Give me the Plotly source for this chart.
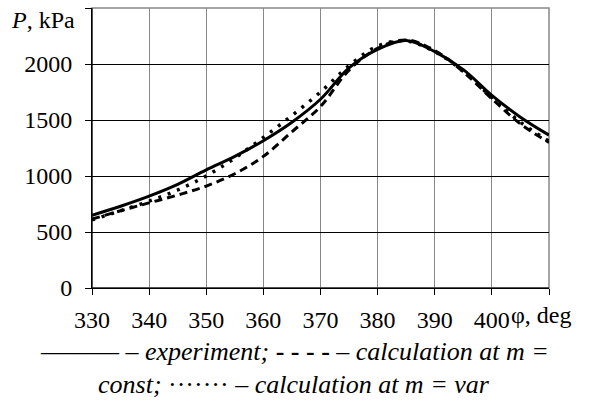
import plotly.graph_objects as go

phi = [330, 335, 340, 345, 350, 355, 360, 365, 370, 375, 380, 385, 390, 395, 400, 405, 410]
p_experiment = [650, 730, 820, 925, 1055, 1175, 1315, 1480, 1685, 1965, 2130, 2210, 2110, 1950, 1720, 1525, 1365]
p_const = [615, 690, 760, 830, 910, 1020, 1175, 1395, 1620, 1945, 2140, 2215, 2120, 1930, 1690, 1465, 1300]
p_var = [608, 690, 775, 875, 1000, 1160, 1345, 1540, 1750, 1985, 2160, 2205, 2110, 1935, 1700, 1480, 1310]

x_ticks = [330, 340, 350, 360, 370, 380, 390, 400, 410]
x_ticktext = ["330", "340", "350", "360", "370", "380", "390", "400", ""]
y_ticks = [0, 500, 1000, 1500, 2000, 2500]
y_ticktext = ["0", "500", "1000", "1500", "2000", ""]

FONT = "serif"

fig = go.Figure()
fig.add_trace(go.Scatter(x=phi, y=p_experiment, mode="lines", line=dict(color="black", width=3, shape="spline"), name="experiment"))
fig.add_trace(go.Scatter(x=phi, y=p_const, mode="lines", line=dict(color="black", width=3, dash="8px,5px", shape="spline"), name="m=const"))
fig.add_trace(go.Scatter(x=phi, y=p_var, mode="lines", line=dict(color="black", width=3.5, dash="3px,7px", shape="spline"), name="m=var"))

fig.update_layout(
    width=590, height=403,
    margin=dict(l=92, r=41, t=8, b=115, autoexpand=False),
    paper_bgcolor="white", plot_bgcolor="white",
    showlegend=False,
    font=dict(family=FONT, size=24, color="black"),
)
fig.update_xaxes(
    range=[330, 410], tickvals=x_ticks, ticktext=x_ticktext,
    showgrid=True, gridcolor="#888888", gridwidth=1,
    showline=True, linecolor="black", linewidth=1,
    ticks="outside", ticklen=6, tickcolor="black", ticklabelstandoff=4,
    zeroline=False, tickfont=dict(family=FONT, size=24), automargin=False,
)
fig.update_yaxes(
    range=[0, 2500], tickvals=y_ticks, ticktext=y_ticktext,
    showgrid=True, gridcolor="black", gridwidth=1,
    showline=True, linecolor="black", linewidth=1,
    ticks="outside", ticklen=6, tickcolor="black", ticklabelstandoff=8,
    zeroline=False, tickfont=dict(family=FONT, size=24), automargin=False,
)
fig.add_shape(type="rect", xref="paper", yref="paper", x0=0, y0=0, x1=1, y1=1,
              line=dict(color="#888888", width=1.5), layer="below")
fig.add_shape(type="line", xref="paper", yref="paper", x0=0, y0=0, x1=0, y1=1,
              line=dict(color="black", width=1))
fig.add_shape(type="line", xref="paper", yref="paper", x0=0, y0=0, x1=1, y1=0,
              line=dict(color="black", width=1))

fig.add_annotation(text="<i>P</i>, kPa", xref="paper", yref="paper", x=-0.033, y=0.958,
                   xanchor="right", yanchor="middle", showarrow=False, font=dict(family=FONT, size=24))
fig.add_annotation(text="φ, deg", xref="paper", yref="paper", x=0.912, y=-0.098,
                   xanchor="left", yanchor="middle", showarrow=False, font=dict(family=FONT, size=24))
fig.add_annotation(text="——— – <i>experiment;</i> <b>- - - -</b> – <i>calculation at m =</i>",
                   xref="paper", yref="paper", x=0.443, y=-0.225, xanchor="center", yanchor="middle",
                   showarrow=False, font=dict(family=FONT, size=26))
fig.add_annotation(text="<i>const;</i> ······· – <i>calculation at m = var</i>",
                   xref="paper", yref="paper", x=0.443, y=-0.345, xanchor="center", yanchor="middle",
                   showarrow=False, font=dict(family=FONT, size=26))

fig.write_html("out.html", config={"displayModeBar": False},
               post_script="document.body.style.margin='0px';")
